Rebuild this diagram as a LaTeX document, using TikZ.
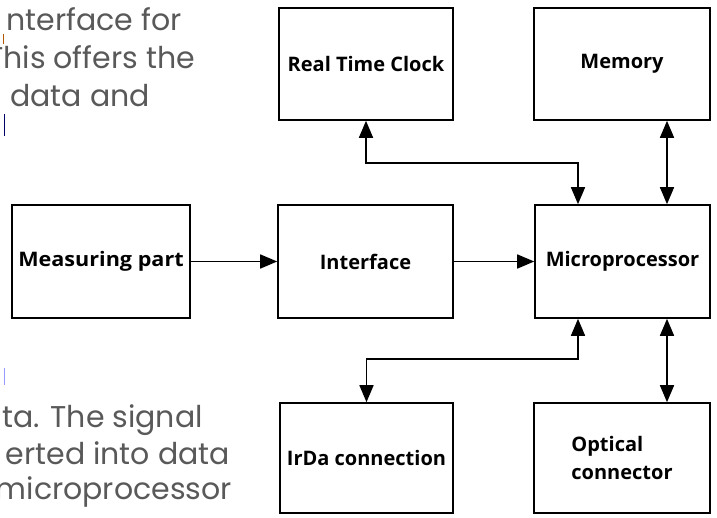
\documentclass[tikz,border=0pt]{standalone}
\usepackage{fontspec}
\setmainfont{Poppins}
\newfontfamily\boxfont{Open Sans}
\usetikzlibrary{arrows.meta}
\begin{document}
\begin{tikzpicture}[x=1pt,y=-1pt,
  blk/.style={draw=black,line width=1.6pt,minimum width=#1,inner sep=0pt,font=\boxfont\bfseries\fontsize{20}{28}\selectfont},
  conn/.style={line width=1.6pt,{Triangle[length=17pt,width=14pt]}-{Triangle[length=17pt,width=14pt]}},
  oneway/.style={line width=1.6pt,-{Triangle[length=17pt,width=14pt]}},
  bgtext/.style={text=black!65,font=\fontsize{30}{36}\selectfont,inner sep=0pt}]
\useasboundingbox (0,0) rectangle (717,517);
\clip (0,0) rectangle (717,517);
\fill[white] (0,0) rectangle (717,517);
% background slide text
\node[bgtext,anchor=base east] (t1) at (182,30) {nterface for};
\node[bgtext,anchor=base east] (t2) at (195,68) {This offers the};
\node[bgtext,anchor=base east] (t3) at (150,106) {data and};
\node[bgtext,anchor=base east] (t4) at (203,427) {ta. The signal};
\node[bgtext,anchor=base east] (t5) at (230,464) {erted into data};
\node[bgtext,anchor=base east] (t6) at (232,499) {microprocessor};
\draw[orange!70!black,line width=0.8pt] (3,34) -- (3,44);
\draw[blue!40!black,line width=1pt] (4,114) -- (4,136);
\draw[blue!40!white,line width=1pt] (4,368) -- (4,385);
% boxes
\node[blk=174pt,minimum height=112pt] (rtc) at (366,64) {Real Time Clock};
\node[blk=176pt,minimum height=112pt] (mem) at (622,64) {Memory};
\node[blk=178pt,minimum height=113pt] (meas) at (101,261.5) {\scalebox{1.08}[1]{Measuring part}};
\node[blk=175pt,minimum height=113pt] (intf) at (365.5,261.5) {Interface};
\node[blk=175pt,minimum height=113pt] (micro) at (622.5,261.5) {Microprocessor};
\node[blk=173pt,minimum height=110pt] (irda) at (366.5,458) {IrDa connection};
\node[blk=176pt,minimum height=110pt,align=left] (opt) at (622,458) {Optical\\connector};
% connectors
\coordinate (bendtop) at (578,163);
\coordinate (bendbot) at (578,359);
\coordinate (mx) at (667,0);
\draw[oneway] (meas.east) -- (intf.west);
\draw[oneway] (intf.east) -- (micro.west);
\draw[conn] (rtc.south) |- (bendtop) -- (bendtop |- micro.north);
\draw[conn] (mem.south -| mx) -- (micro.north -| mx);
\draw[conn] (irda.north) |- (bendbot) -- (bendbot |- micro.south);
\draw[conn] (opt.north -| mx) -- (micro.south -| mx);
\end{tikzpicture}
\end{document}
